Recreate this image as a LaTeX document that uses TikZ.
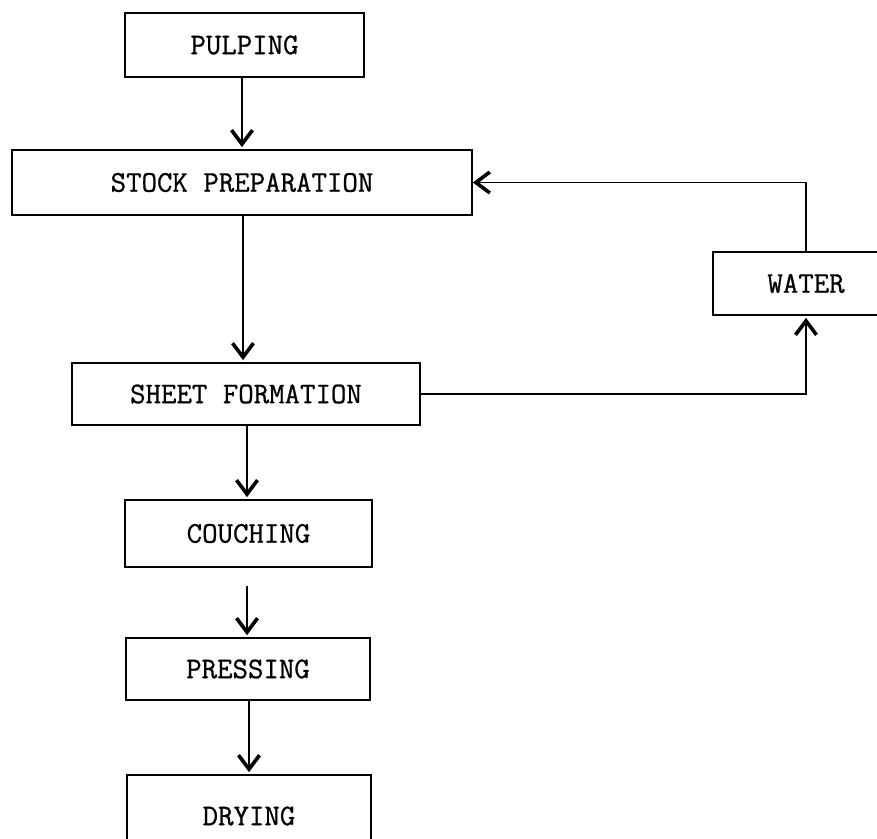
\documentclass[tikz,border=0pt]{standalone}
\usepackage{fontspec}
\newfontfamily\typewriter[FakeBold=0.8]{Latin Modern Mono}
\usetikzlibrary{arrows.meta}
\begin{document}
\begin{tikzpicture}[x=1pt,y=-1pt,
  procbox/.style={draw, line width=1.7pt, rectangle, inner sep=0pt,
    font=\typewriter\fontsize{30}{32}\selectfont},
  flow/.style={line width=1.4pt, -{Straight Barb[length=14pt,width=21pt,line width=3.6pt]}}]
\useasboundingbox (0,0) rectangle (877,838);
\node[procbox, minimum width=239pt, minimum height=64pt] (pulp) at (244.5,45) {PULPING};
\node[procbox, minimum width=460pt, minimum height=65pt] (stock) at (242,182.5) {STOCK PREPARATION};
\node[procbox, minimum width=186pt, minimum height=63pt] (water) at (806,283.5) {WATER};
\node[procbox, minimum width=348pt, minimum height=62pt] (sheet) at (246,394) {SHEET FORMATION};
\node[procbox, minimum width=247pt, minimum height=67pt] (couch) at (248.5,533.5) {COUCHING};
\node[procbox, minimum width=244pt, minimum height=62pt] (press) at (248,669) {PRESSING};
\node[procbox, minimum width=244pt, minimum height=82pt] (dry) at (249,816) {DRYING};
\draw[flow, shorten >=2pt] (pulp.south -| 242,0) -- (stock.north -| 242,0);
\draw[flow, shorten >=2pt] (stock.south -| 243,0) -- (sheet.north -| 243,0);
\draw[flow, shorten >=2pt] (sheet.south -| 247,0) -- (couch.north -| 247,0);
\draw[flow, shorten <=18pt, shorten >=2pt] (couch.south -| 247,0) -- (press.north -| 247,0);
\draw[flow, shorten >=2pt] (press.south -| 249,0) -- (dry.north -| 249,0);
\draw[flow, shorten >=2pt] (sheet.east) -| (water.south);
\draw[flow] (water.north) |- (stock.east);
\end{tikzpicture}
\end{document}
